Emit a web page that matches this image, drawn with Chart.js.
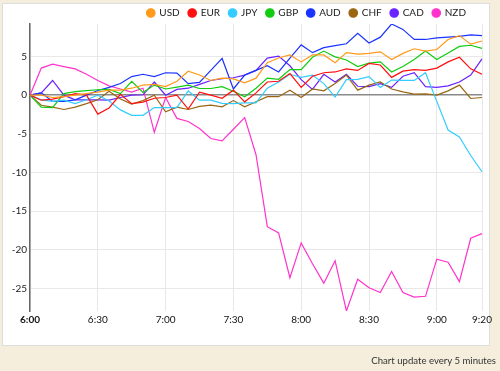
<!DOCTYPE html>
<html>
<head>
<meta charset="utf-8">
<script src="https://cdn.jsdelivr.net/npm/chart.js@4/dist/chart.umd.min.js"></script>
<style>
  html, body { margin: 0; padding: 0; }
  body { width: 500px; height: 371px; background: #f5eedc; position: relative; overflow: hidden; font-family: Lato, sans-serif; }
  #card { position: absolute; left: 2px; top: 3px; width: 486px; height: 341px; background: #fff; border: 1px solid #ddd; }
  #chart-wrap { position: absolute; left: 0; top: 0; width: 500px; height: 371px; }
  #note { position: absolute; right: 4px; top: 355px; font-size: 9.6px; color: #333; }
</style>
</head>
<body>
<div id="card"></div>
<div id="chart-wrap"><canvas id="fxChart"></canvas></div>
<div id="note">Chart update every 5 minutes</div>
<script>
const times = ['6:00','6:05','6:10','6:15','6:20','6:25','6:30','6:35','6:40','6:45','6:50','6:55',
    '7:00','7:05','7:10','7:15','7:20','7:25','7:30','7:35','7:40','7:45','7:50','7:55',
    '8:00','8:05','8:10','8:15','8:20','8:25','8:30','8:35','8:40','8:45','8:50','8:55',
    '9:00','9:05','9:10','9:15','9:20'];

const usd = [0, 0, -0.3, -0.2, 0, 0.2, 0.4, 0.65, 0.65, 0.9, 1.3, 1.4, 1.1, 1.8, 3.1, 2.6, 1.9, 2.2, 2.1, 1.6,
    2.2, 4.2, 4.8, 5.2, 4.3, 5.2, 5.2, 4.2, 5.5, 5.3, 5.4, 5.6, 4.6, 5.4, 6.0, 5.7, 5.9, 7.2, 7.7, 6.6, 7.0];
const eur = [0, -0.65, -0.5, -0.2, 0.2, 0, -2.45, -1.65, 0.1, -1.1, -0.9, -0.4, -0.3, 0, -1.8, 0.4, 0, -0.4, 0.65, -0.86,
    0.3, 1.7, 1.8, 2.8, 1.0, 2.45, 2.9, 3.0, 3.4, 3.2, 4.1, 3.9, 2.3, 3.1, 3.3, 3.2, 3.5, 4.3, 4.9, 3.4, 2.7];
const jpy = [0, -0.6, -0.8, -0.65, -1.1, -0.6, 0, -0.75, -1.9, -2.6, -2.6, -1.6, -1.6, -1.6, 0.55, -0.65, -0.65, -1.05, -1.1, -1.0,
    -1.0, 0.9, 1.7, 2.7, 2.3, 2.6, 1.5, -0.25, 2.0, 2.05, 2.4, 1.0, 1.95, 1.9, 1.9, 2.9, -0.8, -4.5, -5.4, -7.8, -9.9];
const gbp = [0, -1.55, -1.6, 0.2, 0.45, 0.6, 0.7, 0.75, 0.2, 1.8, 0.35, 1.3, 0.8, 1.05, 1.3, 0.86, 0.86, 1.1, 0.5, -0.2,
    0.9, 2.2, 2.05, 3.3, 3.3, 4.9, 5.7, 4.95, 4.55, 3.7, 4.15, 4.3, 3.0, 3.7, 4.6, 5.7, 4.6, 5.45, 6.3, 6.45, 6.05];
const aud = [0, 0.3, -0.8, -0.8, -0.6, 0, 0.6, 1.0, 1.5, 2.4, 2.7, 2.4, 2.9, 2.85, 1.5, 1.65, 3.2, 4.75, 0.8, 2.6,
    3.2, 3.8, 3.0, 4.8, 6.5, 5.5, 6.15, 6.4, 6.65, 8.0, 6.75, 7.5, 9.2, 8.5, 7.2, 7.2, 7.4, 7.5, 7.6, 7.8, 7.7];
const chf = [0, -1.3, -1.55, -1.85, -1.55, -1.1, -0.6, 0.5, -0.5, -1.15, -0.7, 0, -2.15, -1.55, -1.85, -1.45, -1.3, -1.5, -0.7, -1.5,
    -0.86, -0.2, -0.2, 0.65, -0.3, 0.8, 0.56, 1.5, 2.6, 0.65, 1.3, 1.7, 0.8, 0.43, 0.13, 0.17, 0, 0.56, 1.3, -0.43, -0.3];
const cad = [0, 0.3, 1.9, 0, -0.6, -0.6, -0.6, -0.65, -0.3, 0, 0.05, 1.7, 0, 0.75, 0.9, 1.4, 1.9, 2.15, 2.25, 2.6,
    3.2, 4.8, 5.05, 3.8, 2.0, 0.75, 2.7, 1.7, 2.7, 1.15, 1.1, 1.5, 1.0, 2.45, 2.9, 1.1, 1.0, 1.2, 1.7, 2.6, 4.7];
const nzd = [0, 3.5, 4.0, 3.7, 3.4, 2.7, 1.9, 1.2, 0.8, 0.4, 0.9, -4.8, -0.3, -3.0, -3.4, -4.3, -5.6, -5.9, -4.4, -2.9,
    -7.7, -17.0, -17.8, -23.6, -19.1, -21.8, -24.3, -21.4, -27.9, -23.8, -24.9, -25.5, -22.8, -25.5, -26.1, -26.0, -21.2, -21.6, -24.1, -18.5, -17.9];

const currencies = ['USD', 'EUR', 'JPY', 'GBP', 'AUD', 'CHF', 'CAD', 'NZD'];
const colors = ['#ff9a1a', '#ff1010', '#33ccff', '#11cc11', '#1a33ff', '#9a6611', '#6a22ff', '#ff33cc'];
const series = [usd, eur, jpy, gbp, aud, chf, cad, nzd];

const allValues = series.flat();
const yMin = Math.min(...allValues);
const yMax = Math.max(...allValues);

// legend sits a bit left of the plot's right edge and a little lower
const legendShift = {
    id: 'legendShift',
    afterLayout(chart) {
        chart.legend.right -= 7;
        chart.legend.top += 4;
    }
};

const ctx = document.getElementById('fxChart').getContext('2d');
const chart = new Chart(ctx, {
    type: 'line',
    data: {
        labels: times,
        datasets: currencies.map((name, i) => ({
            label: name,
            data: series[i],
            borderColor: colors[i],
            backgroundColor: colors[i],
            borderWidth: 1.2,
            pointRadius: 0,
            tension: 0
        }))
    },
    options: {
        responsive: true,
        maintainAspectRatio: false,
        animation: false,
        layout: { padding: { left: 0, right: 18, top: -5, bottom: 0 } },
        plugins: {
            legend: {
                position: 'top',
                align: 'end',
                labels: {
                    usePointStyle: true,
                    pointStyle: 'circle',
                    boxWidth: 7,
                    boxHeight: 6,
                    padding: 9,
                    color: '#222',
                    font: { family: 'Lato', size: 10 }
                }
            },
            tooltip: { enabled: false }
        },
        scales: {
            x: {
                grid: {
                    drawTicks: false,
                    color: ctx => (ctx.index === times.length - 1 ? 'rgba(0,0,0,0)' : '#e8e8e8')
                },
                border: { display: false },
                ticks: {
                    autoSkip: false,
                    maxRotation: 0,
                    padding: 3,
                    color: '#111',
                    font: ctx => ({
                        family: 'Lato',
                        size: 10,
                        weight: (ctx.index === 0 || ctx.index === times.length - 1) ? 'bold' : 'normal'
                    }),
                    callback: function (val, i) {
                        return (i % 6 === 0 || i === times.length - 1) ? this.getLabelForValue(val) : null;
                    }
                },
                afterFit: s => { s.height = 60; }
            },
            y: {
                min: yMin,
                max: yMax,
                grid: {
                    drawTicks: false,
                    color: ctx => (ctx.tick && ctx.tick.value === 0 ? '#8a8a8a' : '#e8e8e8'),
                    lineWidth: ctx => (ctx.tick && ctx.tick.value === 0 ? 1.5 : 1)
                },
                border: { display: true, color: '#666', width: 1.5 },
                ticks: {
                    stepSize: 5,
                    padding: 3,
                    color: '#222',
                    font: { family: 'Lato', size: 10 }
                },
                afterBuildTicks: s => { s.ticks = s.ticks.filter(t => t.value % 5 === 0); },
                afterFit: s => { s.width = 30; }
            }
        }
    },
    plugins: [legendShift]
});
</script>
</body>
</html>
